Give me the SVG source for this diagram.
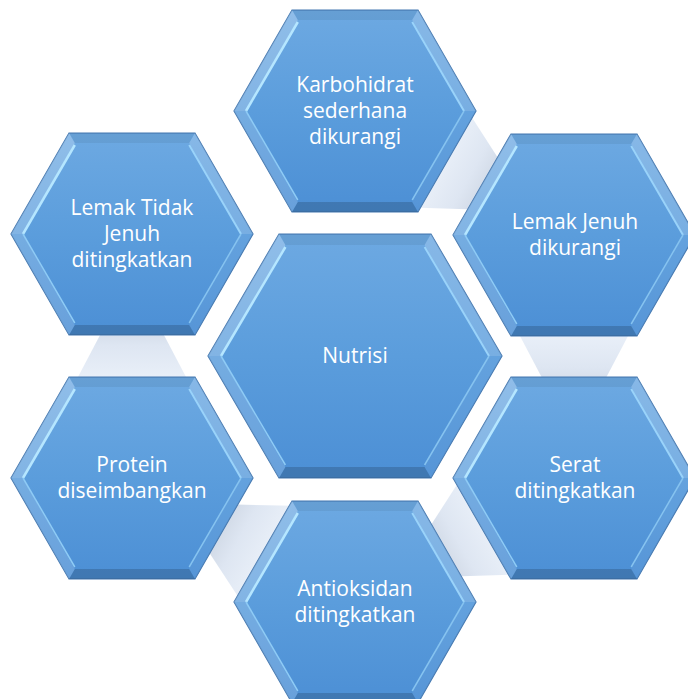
<svg xmlns="http://www.w3.org/2000/svg" xmlns:xlink="http://www.w3.org/1999/xlink" width="688" height="699" viewBox="0 0 688 699">
<style>
.t{font-family:"Open Sans","Noto Sans",sans-serif;font-size:21px;fill:#ffffff;text-anchor:middle}
.conn{fill:url(#connFill)}
</style>
<defs>
<linearGradient id="hexFill" x1="0" y1="0" x2="0" y2="1">
<stop offset="0" stop-color="#6DA9E2"/>
<stop offset="0.5" stop-color="#5B9DDC"/>
<stop offset="1" stop-color="#4C8FD5"/>
</linearGradient>
<linearGradient id="connFill" gradientUnits="userSpaceOnUse" x1="0" y1="90" x2="0" y2="160">
<stop offset="0" stop-color="#ECF2FA"/>
<stop offset="0.6" stop-color="#DEE6F2"/>
<stop offset="1" stop-color="#CDD6E3"/>
</linearGradient>
<g id="hexS">
<polygon points="-63,-101 63,-101 121,0 63,101 -63,101 -121,0" fill="url(#hexFill)" stroke="#4479B2" stroke-width="1.2"/>
<polygon points="-63,-101 63,-101 57.2,-91 -57.2,-91" fill="#000" fill-opacity="0.06"/>
<polygon points="63,-101 121,0 109.5,0 57.2,-91" fill="#fff" fill-opacity="0.18"/>
<polygon points="121,0 63,101 57.2,91 109.5,0" fill="#fff" fill-opacity="0.06"/>
<polygon points="63,101 -63,101 -57.2,91 57.2,91" fill="#000" fill-opacity="0.16"/>
<polygon points="-63,101 -121,0 -109.5,0 -57.2,91" fill="#fff" fill-opacity="0.16"/>
<polygon points="-121,0 -63,-101 -57.2,-91 -109.5,0" fill="#fff" fill-opacity="0.24"/>
<line x1="-57.2" y1="-89" x2="-109" y2="0" stroke="#B5E6FF" stroke-width="2.5"/>
<line x1="57.2" y1="-89" x2="109" y2="0" stroke="#9AD3FA" stroke-width="2"/>
<line x1="-109" y1="0" x2="-57.2" y2="89" stroke="#8FCBF5" stroke-width="1.5"/>
<line x1="109" y1="0" x2="57.2" y2="89" stroke="#86C3F0" stroke-width="1.5"/>
</g>
<g id="hexL">
<polygon points="-76,-122 76,-122 147,0 76,122 -76,122 -147,0" fill="url(#hexFill)" stroke="#4479B2" stroke-width="1.2"/>
<polygon points="-76,-122 76,-122 69.6,-111 -69.6,-111" fill="#000" fill-opacity="0.06"/>
<polygon points="76,-122 147,0 134.3,0 69.6,-111" fill="#fff" fill-opacity="0.18"/>
<polygon points="147,0 76,122 69.6,111 134.3,0" fill="#fff" fill-opacity="0.06"/>
<polygon points="76,122 -76,122 -69.6,111 69.6,111" fill="#000" fill-opacity="0.16"/>
<polygon points="-76,122 -147,0 -134.3,0 -69.6,111" fill="#fff" fill-opacity="0.16"/>
<polygon points="-147,0 -76,-122 -69.6,-111 -134.3,0" fill="#fff" fill-opacity="0.24"/>
<line x1="-69.6" y1="-109" x2="-134" y2="0" stroke="#B5E6FF" stroke-width="2.5"/>
<line x1="69.6" y1="-109" x2="134" y2="0" stroke="#9AD3FA" stroke-width="2"/>
<line x1="-134" y1="0" x2="-69.6" y2="109" stroke="#8FCBF5" stroke-width="1.5"/>
<line x1="134" y1="0" x2="69.6" y2="109" stroke="#86C3F0" stroke-width="1.5"/>
</g>
<polygon id="connShape" points="-59.8,90 59.8,90 23,160 -23,160"/>
</defs>
<rect width="688" height="699" fill="#ffffff"/>
<g id="connectors">
<use xlink:href="#connShape" class="conn" transform="translate(355,111) rotate(-60.5)"/>
<use xlink:href="#connShape" class="conn" transform="translate(574,235)"/>
<use xlink:href="#connShape" class="conn" transform="translate(574,478) rotate(60.5)"/>
<use xlink:href="#connShape" class="conn" transform="translate(355,602) rotate(119)"/>
<use xlink:href="#connShape" class="conn" transform="translate(132,478) rotate(180)"/>
</g>
<g id="node-nutrisi">
<use xlink:href="#hexL" transform="translate(355,356)"/>
<text class="t" x="355" y="363">Nutrisi</text>
</g>
<g id="node-karbohidrat">
<use xlink:href="#hexS" transform="translate(355,111)"/>
<text class="t" x="355" y="92">Karbohidrat</text>
<text class="t" x="355" y="118">sederhana</text>
<text class="t" x="355" y="144">dikurangi</text>
</g>
<g id="node-lemak-jenuh">
<use xlink:href="#hexS" transform="translate(574,235)"/>
<text class="t" x="575" y="229">Lemak Jenuh</text>
<text class="t" x="575" y="255">dikurangi</text>
</g>
<g id="node-serat">
<use xlink:href="#hexS" transform="translate(574,478)"/>
<text class="t" x="575" y="472">Serat</text>
<text class="t" x="575" y="498">ditingkatkan</text>
</g>
<g id="node-antioksidan">
<use xlink:href="#hexS" transform="translate(355,602)"/>
<text class="t" x="355" y="596">Antioksidan</text>
<text class="t" x="355" y="622">ditingkatkan</text>
</g>
<g id="node-protein">
<use xlink:href="#hexS" transform="translate(132,478)"/>
<text class="t" x="132" y="472">Protein</text>
<text class="t" x="132" y="498">diseimbangkan</text>
</g>
<g id="node-lemak-tidak-jenuh">
<use xlink:href="#hexS" transform="translate(132,234)"/>
<text class="t" x="132" y="215">Lemak Tidak</text>
<text class="t" x="132" y="241">Jenuh</text>
<text class="t" x="132" y="267">ditingkatkan</text>
</g>
</svg>
